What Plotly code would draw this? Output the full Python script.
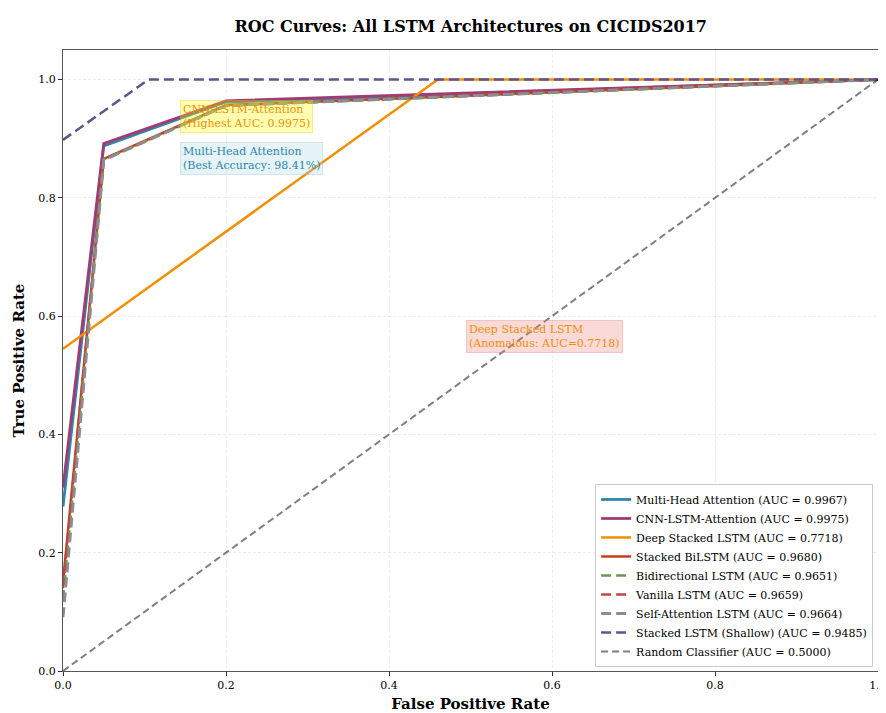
import plotly.graph_objects as go

# ---- data ----
names = ["Multi-Head Attention", "CNN-LSTM-Attention", "Deep Stacked LSTM", "Stacked BiLSTM",
         "Bidirectional LSTM", "Vanilla LSTM", "Self-Attention LSTM", "Stacked LSTM (Shallow)"]
aucs = [0.9967, 0.9975, 0.7718, 0.9680, 0.9651, 0.9659, 0.9664, 0.9485]

fpr_mha = [0.0, 0.05, 0.2, 1.0]
tpr_mha = [0.278, 0.888, 0.962, 1.0]
fpr_cnn = [0.0, 0.05, 0.2, 1.0]
tpr_cnn = [0.31, 0.892, 0.964, 1.0]
fpr_deep = [0.0, 0.46, 1.0]
tpr_deep = [0.545, 1.0, 1.0]
fpr_bilstm = [0.0, 0.05, 0.2, 1.0]
tpr_bilstm = [0.15, 0.866, 0.957, 1.0]
fpr_bidir = [0.0, 0.05, 0.2, 1.0]
tpr_bidir = [0.12, 0.865, 0.956, 1.0]
fpr_vanilla = [0.0, 0.05, 0.2, 1.0]
tpr_vanilla = [0.14, 0.865, 0.956, 1.0]
fpr_selfatt = [0.0, 0.05, 0.2, 1.0]
tpr_selfatt = [0.091, 0.864, 0.956, 1.0]
fpr_shallow = [0.0, 0.105, 1.0]
tpr_shallow = [0.898, 1.0, 1.0]
fpr_random = [0.0, 1.0]
tpr_random = [0.0, 1.0]

curves = [(fpr_mha, tpr_mha), (fpr_cnn, tpr_cnn), (fpr_deep, tpr_deep), (fpr_bilstm, tpr_bilstm),
          (fpr_bidir, tpr_bidir), (fpr_vanilla, tpr_vanilla), (fpr_selfatt, tpr_selfatt),
          (fpr_shallow, tpr_shallow)]
colors = ["#2E86AB", "#A23B72", "#F18F01", "#C73E1D", "#6A994E", "#BC4749", "#8D8D8D", "#5E548E"]
dashes = ["solid", "solid", "solid", "solid", "10px,5px", "10px,5px", "10px,5px", "10px,5px"]
widths = [2.8, 2.8, 2.5, 2.5, 2.5, 2.5, 3.0, 2.5]

FONT = "DejaVu Serif"

fig = go.Figure()
for (x, y), n, a, c, d, w in zip(curves, names, aucs, colors, dashes, widths):
    fig.add_trace(go.Scatter(x=x, y=y, mode="lines", name=f"{n} (AUC = {a:.4f})",
                             line=dict(color=c, width=w, dash=d)))
fig.add_trace(go.Scatter(x=fpr_random, y=tpr_random, mode="lines",
                         name="Random Classifier (AUC = 0.5000)",
                         line=dict(color="rgba(0,0,0,0.5)", width=2, dash="7px,4px")))

fig.add_annotation(x=0.143, y=0.937, xref="x", yref="y", xanchor="left", yanchor="middle",
                   text="CNN-LSTM-Attention<br>(Highest AUC: 0.9975)", showarrow=False, align="left",
                   font=dict(family=FONT, size=11, color="#F18F01"),
                   bgcolor="rgba(255,255,0,0.3)", bordercolor="rgba(220,200,0,0.35)", borderpad=2)
fig.add_annotation(x=0.143, y=0.867, xref="x", yref="y", xanchor="left", yanchor="middle",
                   text="Multi-Head Attention<br>(Best Accuracy: 98.41%)", showarrow=False, align="left",
                   font=dict(family=FONT, size=11, color="#2E86AB"),
                   bgcolor="rgba(173,216,230,0.3)", bordercolor="rgba(150,190,210,0.35)", borderpad=2)
fig.add_annotation(x=0.494, y=0.565, xref="x", yref="y", xanchor="left", yanchor="middle",
                   text="Deep Stacked LSTM<br>(Anomalous: AUC=0.7718)", showarrow=False, align="left",
                   font=dict(family=FONT, size=11, color="#F18F01"),
                   bgcolor="rgba(240,128,128,0.3)", bordercolor="rgba(230,120,120,0.35)", borderpad=2)

axis_common = dict(showline=True, linecolor="#555", linewidth=1.2, mirror=True,
                   ticks="outside", ticklen=4, tickcolor="#333",
                   showgrid=True, gridcolor="rgba(0,0,0,0.07)", griddash="3px,2px", gridwidth=1,
                   zeroline=False, tickfont=dict(family=FONT, size=11, color="#000"),
                   tickformat=".1f", dtick=0.2, automargin=False, ticklabeloverflow="allow")
fig.update_xaxes(range=[0, 1], title=dict(text="<b>False Positive Rate</b>", standoff=12,
                 font=dict(family=FONT, size=15, color="#000")), **axis_common)
fig.update_yaxes(range=[0, 1.05], title=dict(text="<b>True Positive Rate</b>", standoff=9,
                 font=dict(family=FONT, size=15, color="#000")), **axis_common)

# the page has an 8px body margin, so the figure is drawn 8px smaller and sits offset by 8px
fig.update_layout(
    width=878, height=705,
    margin=dict(l=55, r=8, t=42, b=42),
    plot_bgcolor="white", paper_bgcolor="white",
    title=dict(text="<b>ROC Curves: All LSTM Architectures on CICIDS2017</b>", x=0.527, xanchor="center",
               y=0.974, yanchor="middle", font=dict(family=FONT, size=16, color="#000")),
    font=dict(family=FONT),
    legend=dict(x=0.994, y=0.0065, xanchor="right", yanchor="bottom",
                bgcolor="rgba(255,255,255,0.85)", bordercolor="#ccc", borderwidth=1,
                font=dict(family=FONT, size=11, color="#000"), tracegroupgap=0,
                itemwidth=30),
    showlegend=True,
)

fig.write_html("out.html")
